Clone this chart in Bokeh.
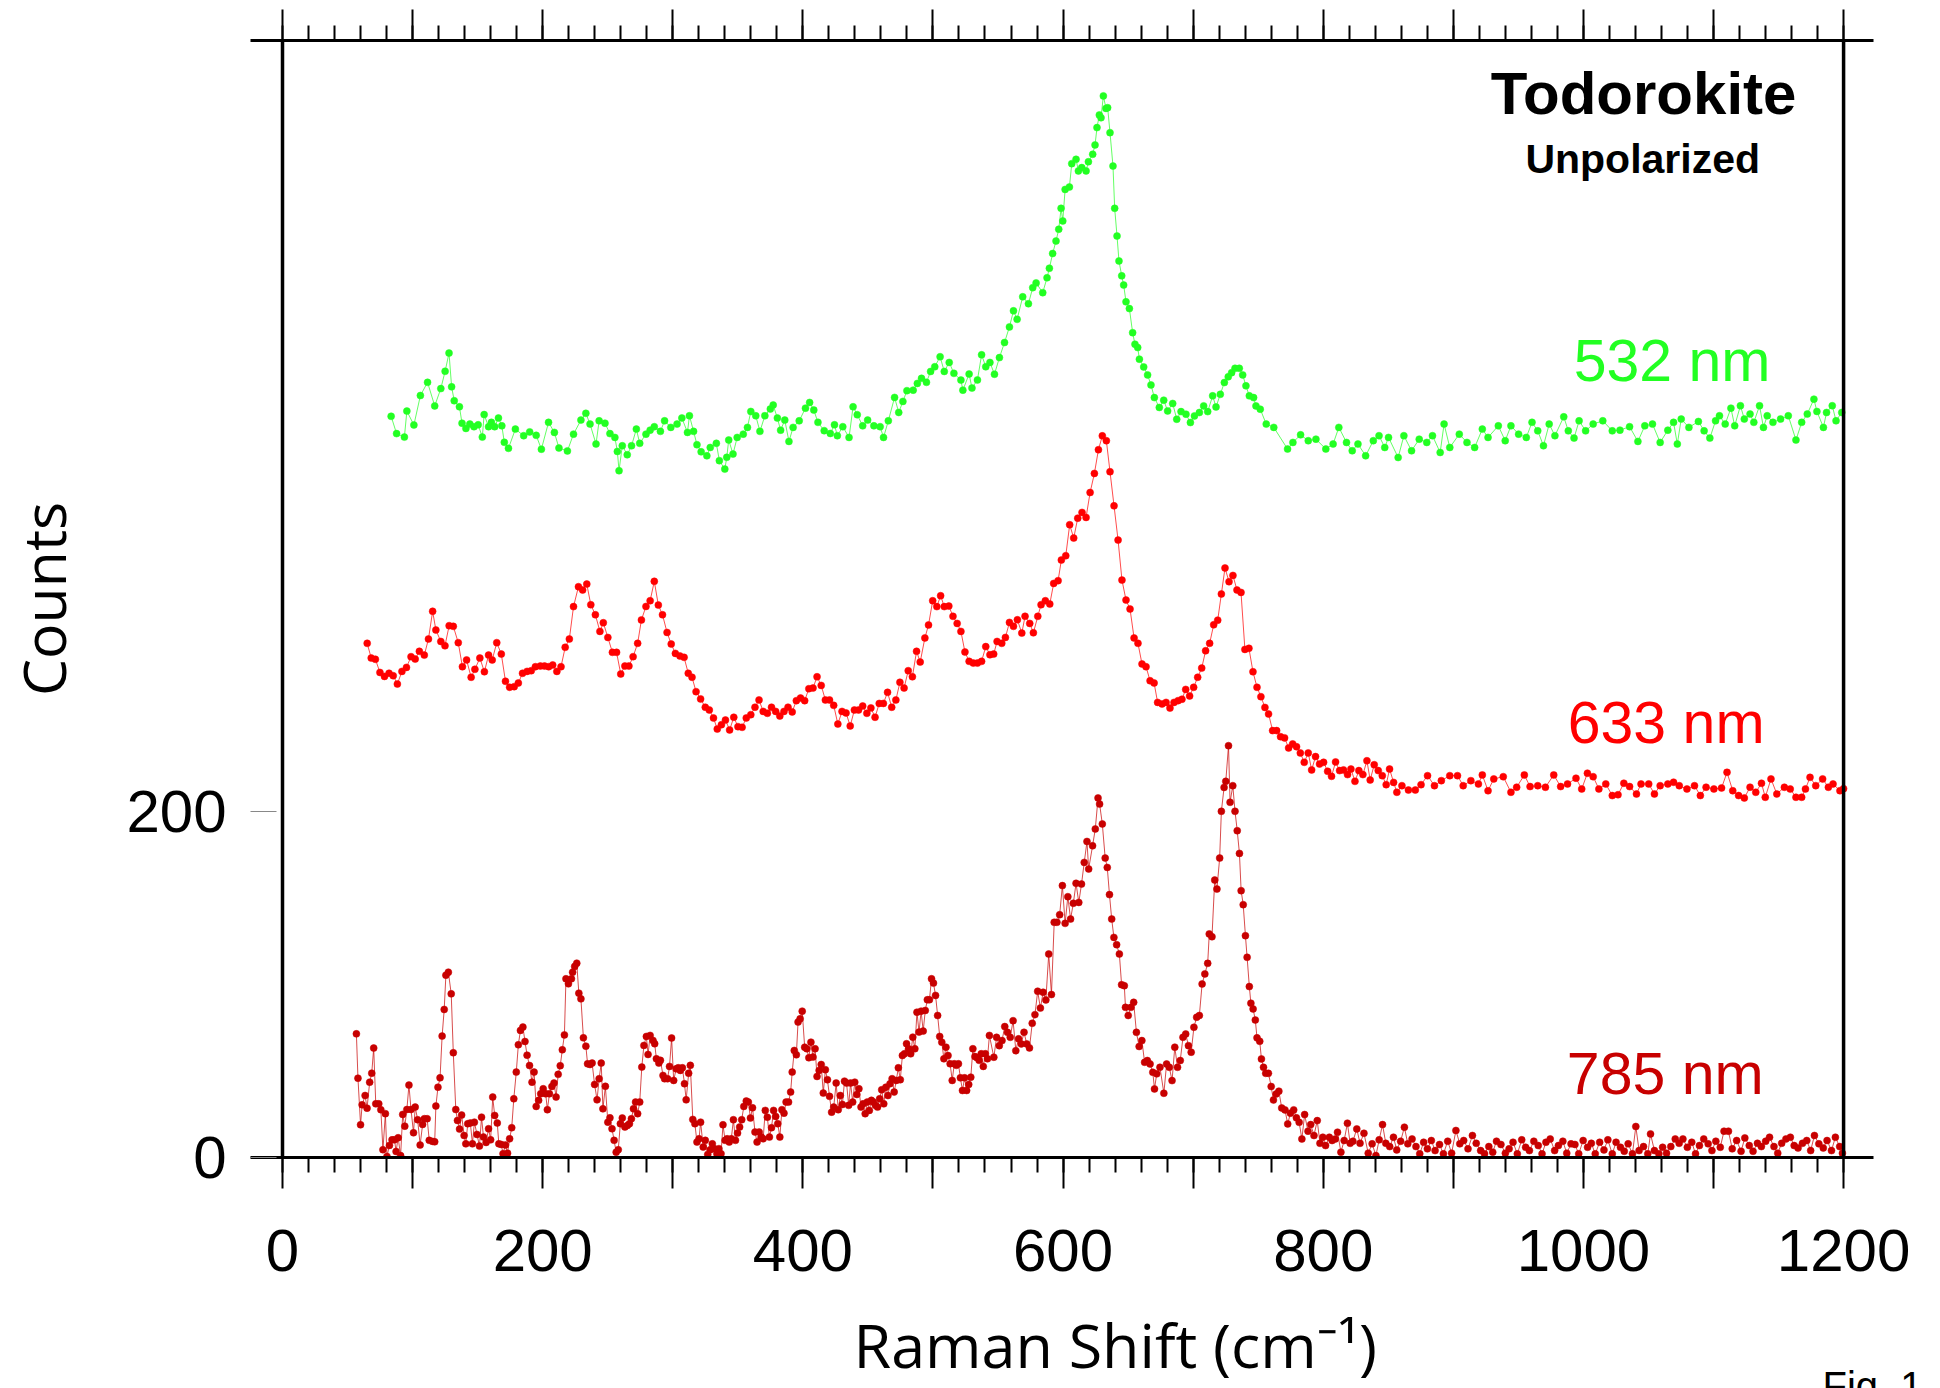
from bokeh.plotting import figure
from bokeh.models import Range1d, FixedTicker, LinearAxis, Span, Label, Title
from bokeh.embed import file_html
from bokeh.resources import INLINE

# ---------------- data ----------------
X_MAJOR_TICKS = [0, 100, 200, 300, 400, 500, 600, 700, 800, 900, 1000, 1100, 1200]
X_MINOR_TICKS = list(range(0, 1201, 20))
X_TICK_LABELS = {100: "", 300: "", 500: "", 700: "", 900: "", 1100: ""}
Y_TICKS = [0, 200]

SERIES_NAMES = ["532 nm", "633 nm", "785 nm"]

# 532 nm (green)
G532_X = [
    83.5, 87.7, 93.7, 95.6, 101.0, 106.0, 111.5, 117.0, 121.7, 125.0,
    128.0, 130.0, 132.0, 136.0, 138.0, 141.0, 144.0, 147.2, 150.4, 153.6,
    155.0, 158.4, 160.6, 163.1, 166.0, 168.6, 170.5, 173.7, 179.0, 185.4,
    190.0, 195.0, 199.0, 204.5, 209.0, 212.5, 219.0, 223.7, 229.4, 233.2,
    236.4, 241.0, 243.4, 247.9, 251.7, 255.5, 257.4, 258.7, 261.2, 265.0,
    268.3, 272.0, 274.6, 279.4, 282.6, 285.8, 290.5, 293.7, 298.5, 303.3,
    307.0, 311.3, 312.8, 316.0, 318.6, 321.8, 326.2, 328.8, 333.5, 335.8,
    340.0, 341.5, 343.0, 346.3, 349.5, 354.2, 357.4, 360.0, 363.8, 367.0,
    370.8, 375.0, 377.2, 380.4, 382.9, 386.1, 389.3, 392.5, 397.2, 402.0,
    405.2, 408.4, 411.6, 416.4, 421.1, 424.3, 426.5, 430.7, 435.5, 438.6,
    441.8, 446.0, 449.8, 454.6, 459.4, 462.0, 465.7, 470.5, 473.7, 476.9,
    480.0, 484.8, 488.0, 491.2, 495.0, 498.2, 501.4, 505.5, 508.7, 512.5,
    516.1, 521.5, 523.0, 527.8, 530.0, 534.2, 537.4, 540.6, 543.8,
    547.3, 551.1, 555.0, 558.8, 561.9, 564.7, 569.0, 573.4, 576.7, 579.3,
    584.4, 587.7, 589.5, 592.0, 594.6, 596.7, 598.5, 599.8, 601.6, 604.9,
    606.7, 610.0, 611.8, 614.4, 617.7, 619.5, 622.8, 624.6, 626.1, 627.9,
    629.2, 631.0, 633.0, 634.3, 636.1, 638.4, 639.7, 641.5, 643.0, 645.1,
    646.6, 648.4, 651.0, 653.5, 655.3, 657.4, 658.7, 662.0, 665.0, 667.6,
    670.2, 674.0, 677.4, 680.4, 684.3, 687.4, 690.7, 694.5, 697.9, 701.0,
    704.8, 708.1, 711.2, 715.0, 717.6, 720.9, 724.0, 727.0, 729.6, 732.2,
    735.5, 738.1, 740.6, 743.2, 746.5, 748.3, 751.6,
    756.2, 762.0, 772.6, 776.7, 782.6, 788.5, 794.4, 802.0, 807.6, 812.0,
    817.9, 822.3, 826.7, 832.6, 838.5, 842.9, 847.3, 850.2, 857.6, 862.0,
    867.9, 873.8, 879.6, 884.0, 889.9, 892.9, 897.3, 904.6, 910.5, 916.4,
    922.3, 926.7, 934.6, 939.9, 944.3, 950.2, 956.1, 960.5, 964.9, 969.3,
    973.7, 978.1, 984.9, 988.4, 992.8, 996.7, 1001.7, 1007.5, 1014.9, 1022.2,
    1028.1, 1035.5, 1041.9, 1047.2, 1053.1, 1059.0, 1064.9, 1069.3, 1072.2, 1075.2,
    1081.1, 1088.4, 1092.8, 1097.2, 1101.6, 1104.6, 1109.0, 1113.4, 1116.3, 1120.7,
    1123.7, 1128.1, 1131.0, 1135.4, 1138.4, 1141.3, 1145.7, 1151.6, 1157.5, 1163.4,
    1167.8, 1172.1, 1177.2, 1179.5, 1184.5, 1186.9, 1191.3, 1194.2, 1198.6,
]
G532_Y = [
    428, 418, 416, 431, 423, 440, 447.6, 434, 444, 454,
    464.5, 445, 437, 433.5, 424, 421, 423.5, 422, 423.1, 416,
    429, 422, 424.5, 422, 427, 422.5, 413, 409.5, 420.6, 416.8,
    419, 417, 409, 424.5, 418.7, 409.7, 408, 417.7, 425.8, 429.7,
    423.5, 412, 425.4, 424, 418, 415.8, 407.7, 396.6, 411, 405.8,
    411, 420.6, 412.4, 417.7, 420, 422, 419.3, 425.4, 421.6, 423.5,
    427, 418.7, 428.3, 419.3, 411.6, 407.5, 405.2, 410, 412.4, 402.4,
    397.5, 404.3, 414.3, 406.2, 415.8, 417.7, 421.6, 430.8, 428.3, 419.3,
    428.3, 432.2, 434.5, 427, 420, 425.8, 413.5, 421.6, 425.4, 432.7,
    436, 431.6, 424.5, 419.7, 418.1, 423.1, 416.8, 422, 415.8, 433.5,
    428.9, 422.5, 425.8, 422.5, 422, 415.8, 425.4, 438.9, 430.2, 436.6,
    442.8, 443.1, 447, 449.9, 447.6, 453.9, 456.6, 462.4, 453.9, 459.1,
    452.8, 448.9, 443.1, 452.4, 444.3, 449, 463.5, 456.6, 459.1,
    452.3, 461.9, 470.6, 479.6, 488.9, 484, 497, 493, 502.3, 505,
    499.4, 508, 513.5, 522, 529.2, 536, 548.1, 540.8, 559, 560.4,
    573.9, 576.4, 569.7, 571.6, 569.7, 575, 579.3, 584.7, 594.7, 602,
    600.4, 613, 605.8, 606.2, 591.8, 572.5, 548.1, 532.1, 517.7, 509.1,
    503.8, 494.1, 490.2, 476.3, 469.6, 467.7, 461, 456.5, 451.9, 446.1,
    438.8, 433.1, 437.3, 431.1, 435.4, 426.3, 430.7, 429.2, 424.4, 428.2,
    430.2, 434, 430.7, 439.8, 433.4, 440.7, 447.5, 450.8, 453.2, 455.7,
    455.7, 451.9, 445.6, 439.8, 438.8, 434, 432.1,
    423.5, 421.6, 409.1, 412.9, 417.3, 413.9, 414.8, 409.1, 412, 421.6,
    412.9, 408.1, 412, 405.2, 413.9, 416.8, 410, 415.8, 404.2, 416.8,
    408.1, 414.8, 412.9, 416.8, 407.1, 423.5, 410, 417.7, 412.9, 410,
    420.6, 415.8, 422.5, 413.9, 422.5, 417.7, 415.8, 424.5, 419.6, 411,
    423.5, 416.8, 427.7, 419.6, 415.4, 425.4, 419.6, 423.5, 425.4, 419.6,
    420, 422, 413.5, 422.5, 423.5, 412.9, 420, 424.5, 412, 426.4,
    421.6, 425, 419.6, 415.4, 425.4, 428.3, 423.5, 432.7, 422.5, 434.1,
    426.4, 429.3, 424.5, 434.1, 421.6, 428.3, 424.5, 426.4, 428.3, 414.3,
    424.5, 429.3, 437.9, 430.8, 421.6, 430.2, 434.1, 425.4, 430.2,
]

# 633 nm (red)
R633_X = [
    65.1, 68.2, 71.4, 74.9, 78.4, 81.9, 85.1, 88.3, 91.8, 95.3,
    98.8, 102.0, 105.2, 109.0, 112.2, 115.4, 117.9, 121.7, 124.9, 128.1,
    131.3, 135.1, 138.3, 141.5, 145.0, 147.9, 151.7, 155.2, 158.4, 161.2,
    164.7, 168.2, 171.4, 174.6, 178.1, 181.3, 184.5, 188.0, 191.2, 194.4,
    198.2, 201.4, 204.6, 207.7, 210.9, 214.1, 217.3, 220.5, 223.7, 227.5,
    230.7, 233.9, 237.0, 240.5, 244.0, 246.6, 250.1, 253.6, 256.8, 260.0,
    263.2, 266.3, 269.5, 273.0, 275.9, 279.4, 282.6, 285.8, 288.9, 292.1,
    295.6, 298.8, 302.0, 305.5, 308.7, 311.9, 314.8, 317.9, 321.4, 325.0,
    328.1, 331.3, 334.2, 337.4, 340.5, 343.7, 346.9, 350.1, 353.3, 356.5,
    360.0, 363.2, 366.3, 369.5, 372.7, 375.9, 379.1, 382.3, 385.5, 388.6,
    391.8, 395.0, 398.2, 401.4, 404.6, 407.8, 410.9, 414.1, 417.3, 420.5,
    423.7, 426.9, 430.1, 433.2, 436.4, 439.6, 442.8, 446.0, 449.2, 452.3,
    455.5, 458.7, 461.9, 465.1, 468.3, 471.5, 474.6, 477.8, 481.0, 484.2,
    487.4, 490.2, 493.8, 496.6, 499.8, 503.0, 505.9, 508.7, 512.2, 515.4,
    518.6, 521.5, 524.6, 527.8, 531.0, 534.2, 537.4, 540.6, 543.8,
    546.7, 549.3, 552.9, 555.7, 558.8, 561.9, 564.9, 568.3, 570.8, 574.4,
    577.2, 580.6, 583.1, 586.4, 589.8, 592.8, 596.2, 598.7, 602.1, 605.1,
    608.2, 611.3, 614.6, 617.7, 620.8, 624.1, 627.2, 630.2, 633.3, 636.1,
    639.2, 642.3, 645.3, 648.4, 651.5, 654.6, 657.6, 660.7, 663.8, 666.9,
    670.0, 672.7, 676.1, 679.2, 682.2, 685.3, 688.4, 691.4, 694.3, 697.3,
    700.4, 703.5, 706.6, 709.6, 712.7, 715.8, 718.9, 721.7, 724.5, 727.6,
    730.6, 733.7, 736.8, 739.8, 742.9, 746.0, 749.1, 752.1, 755.2, 758.0,
    761.1, 764.2, 767.2, 770.3, 773.4, 776.5, 779.5, 782.4, 785.4, 788.5,
    791.1, 794.1, 797.2, 800.3, 803.4, 806.4, 809.5, 812.6, 815.6, 818.7,
    821.3, 824.4, 827.4, 830.5, 833.6, 836.1, 839.2, 842.3, 845.4, 848.4,
    851.0, 854.1, 856.6,
    860.5, 865.5, 870.8, 875.2, 880.2, 885.5, 890.8, 897.3, 903.2, 907.6,
    913.5, 919.3, 922.3, 926.7, 931.1, 938.4, 944.3, 948.7, 954.6, 959.0,
    964.9, 970.8, 977.2, 982.5, 987.8, 994.3, 998.7, 1003.1, 1007.5, 1011.9,
    1017.2, 1022.2, 1026.6, 1031.1, 1035.5, 1040.8, 1044.3, 1050.2, 1054.6, 1059.0,
    1064.9, 1069.3, 1073.7, 1079.6, 1085.4, 1089.9, 1094.3, 1100.3, 1106.2, 1110.4,
    1114.8, 1119.3, 1123.7, 1128.1, 1132.5, 1136.9, 1139.8, 1144.2, 1148.7, 1154.5,
    1159.0, 1163.4, 1167.8, 1170.7, 1174.2, 1178.6, 1183.9, 1188.3, 1191.9, 1197.2,
    1200.0,
]
R633_Y = [
    296.9, 288.4, 287.7, 280.1, 277.8, 279.6, 278.2, 273.4, 280.7, 283,
    289.2, 287.8, 292.3, 290.1, 299.4, 315.4, 304.6, 298, 295.5, 307.1,
    306.7, 297.3, 283.4, 287.3, 277.3, 281.9, 288.4, 280.5, 290.1, 287.3,
    297.3, 290.7, 275, 271.5, 271.9, 274, 279.6, 280.7, 281.1, 283.4,
    283.8, 283.8, 283.4, 284.4, 280.7, 283.4, 294.6, 299.4, 318.1, 329.6,
    327.7, 331.1, 319.2, 313.4, 303.8, 308.8, 300.3, 291.7, 291.7, 279.2,
    283.8, 283.8, 289.2, 296.9, 310.4, 318.2, 321.5, 332.7, 319, 313.4,
    303.2, 296.5, 291.1, 289.6, 288.8, 279.6, 277.3, 269, 264.8, 260,
    258.4, 253.8, 247.4, 249.9, 252.6, 246.9, 254.2, 248.8, 248.4, 253.8,
    255.7, 260, 264.2, 257.6, 256.5, 260, 257.6, 254.9, 257.6, 260,
    257.3, 263.8, 265.3, 263.8, 270.7, 271.1, 277.6, 272.6, 264.2, 264.2,
    261.1, 250.3, 257.6, 256.7, 249.2, 258.4, 258.4, 260.7, 256.5, 259.6,
    254.2, 262.2, 262.2, 268.6, 260, 264.2, 274.4, 271.1, 281.1, 277.6,
    292.3, 286.1, 300, 307.5, 321.5, 318.1, 324.4, 318.1, 318.4, 312.5,
    308.4, 303.8, 291.9, 286.5, 285.5, 285.5, 286.5, 295, 290.3,
    290.7, 298, 296.9, 300.3, 309, 306.7, 310.5, 302.8, 312.5, 308.4,
    303, 312.5, 319.2, 321.5, 319.6, 331.5, 333.1, 345, 347.5, 365.4,
    357.7, 369.2, 372.5, 369.6, 384, 395, 408.7, 416.7, 413.9, 396,
    376.3, 356.5, 333.4, 321.9, 316.7, 300, 296.9, 285, 283.4, 275.3,
    274, 262.8, 261.9, 262.8, 259.5, 262.8, 263.8, 264.6, 270.3, 266.5,
    271.5, 277.3, 282.6, 292.6, 296.9, 307.6, 310.3, 325.4, 340.4, 332.5,
    336.1, 327.7, 326.3, 293.4, 294, 280.5, 271.5, 266.1, 259.9, 256.1,
    246.5, 246.5, 243, 242.3, 236.5, 238.8, 237.2, 233.6, 228.2, 233.6,
    223.8, 231.5, 227.2, 228.2, 223, 220.1, 228.4, 223.4, 223.8, 221.1,
    224.3, 217.2, 223.4, 221.1, 229.1, 218, 226.8, 223.4, 220.5, 215.3,
    224.3, 216.6, 210.9,
    214.7, 212.2, 212.2, 215.3, 220.5, 214.7, 217.6, 220.5, 220.5, 214.7,
    217.6, 215.7, 220.9, 211.8, 218.6, 219.9, 210.9, 213.8, 220.9, 214.2,
    214.7, 213.8, 220.9, 214.2, 215.7, 219, 212.8, 221.9, 219.9, 212.8,
    215.7, 209, 209.5, 216.1, 214.2, 209.9, 215.7, 215.7, 209.9, 214.7,
    215.7, 216.7, 214.7, 212.8, 214.7, 209, 213.8, 212.8, 213.4, 222.4,
    211.8, 209, 207.6, 213.8, 210.9, 216.1, 208, 218.6, 209.9, 213.8,
    212.8, 208, 208, 212.8, 219.5, 214.7, 218.6, 213.8, 215.7, 211.8,
    213,
]

# 785 nm (dark red)
D785_X = [
    56.8, 58.0, 60.0, 61.2, 63.5, 65.0, 67.0, 68.6, 70.1, 71.7,
    74.0, 75.6, 77.2, 79.1, 80.3, 82.2, 84.2, 86.1, 87.3, 88.9,
    90.8, 92.4, 94.0, 95.6, 97.2, 98.8, 100.7, 102.0, 103.9, 105.8,
    107.7, 109.0, 111.2, 112.8, 115.4, 117.0, 117.9, 119.5, 121.1, 122.7,
    124.3, 125.6, 127.5, 129.7, 131.3, 133.2, 134.5, 136.1, 137.7, 139.6,
    140.9, 142.4, 144.4, 146.0, 147.5, 149.5, 151.4, 153.0, 154.5, 156.5,
    158.4, 160.0, 161.6, 163.1, 165.1, 166.3, 168.2, 169.5, 171.4, 173.0,
    174.6, 176.2, 177.8, 179.7, 181.3, 182.9, 184.8, 186.4, 188.0, 189.9,
    191.8, 193.4, 195.0, 196.9, 198.5, 200.4, 202.3, 203.6, 205.2, 207.1,
    208.7, 210.3, 211.9, 213.5, 215.1, 216.7, 217.9, 219.8, 222.1, 223.0,
    224.6, 226.2, 227.8, 229.4, 231.3, 233.2, 234.5, 236.4, 238.0, 239.9,
    241.8, 243.4, 245.0, 246.3, 248.2, 250.1, 251.7, 253.3, 254.9, 256.5,
    258.1, 259.7, 261.2, 263.2, 265.1, 266.7, 268.2, 269.8, 271.4, 273.0,
    274.6, 276.2, 277.8, 279.7, 281.0, 282.6, 284.8, 286.1, 287.4, 289.3,
    290.5, 292.5, 293.7, 296.0, 297.5, 299.1, 300.7, 302.6, 304.2, 305.8,
    307.4, 309.0, 310.3, 312.2, 313.5, 315.4, 317.0, 318.6, 320.2, 321.4,
    323.4, 325.0, 326.9, 328.8, 330.4, 332.0, 333.9, 335.5, 337.1, 338.6,
    340.2, 341.8, 343.4, 345.0, 346.6, 348.2, 349.8, 351.4, 353.0, 354.6,
    356.5, 358.1, 359.7, 361.3, 363.2, 364.8, 366.4, 368.0, 369.5, 371.1,
    372.7, 374.3, 375.9, 377.5, 379.1, 380.7, 382.3, 383.9, 385.5, 387.1,
    389.0, 390.6, 391.8, 393.4, 395.0, 396.3, 397.9, 399.5, 401.4, 403.0,
    404.6, 406.2, 407.8, 409.4, 410.9, 412.5, 414.1, 415.7, 417.3, 418.9,
    420.5, 422.1, 423.7, 425.6, 427.2, 428.8, 430.4, 432.0, 433.6, 435.2,
    436.7, 438.3, 439.9, 441.5, 443.1, 444.7, 446.3, 447.9, 449.5, 451.1,
    452.7, 454.2, 455.8, 457.4, 459.0, 460.6, 462.2, 463.8, 465.4, 467.0,
    468.6, 470.2, 471.8, 473.4, 474.9, 476.5, 478.1, 479.7, 481.3, 482.9,
    484.5, 486.1, 487.7, 489.3, 490.9, 492.5, 494.1, 495.7, 497.3, 498.9,
    500.4, 502.0, 503.6, 505.2, 506.8, 508.4, 510.0, 511.6, 513.2, 514.8,
    516.4, 518.0, 519.6, 521.1, 522.7, 524.3, 525.9, 527.5, 529.1, 530.7,
    532.3, 533.9, 535.5, 537.1, 538.7, 540.3, 541.9, 543.4,
    546.8, 548.9, 551.0, 553.1, 555.2, 557.3, 559.4, 561.6, 563.7, 565.8,
    567.9, 570.0, 572.1, 574.2, 576.3, 578.4, 580.5, 582.6, 584.7, 586.8,
    589.0, 591.1, 593.2, 595.3, 597.4, 599.5, 601.6, 603.7, 605.8, 607.9,
    610.0, 612.1, 614.2, 616.3, 618.4, 619.7, 622.7, 624.8, 626.9, 628.1,
    630.2, 632.4, 634.0, 635.7, 637.4, 639.1, 641.2, 643.3, 645.0, 647.1,
    648.0, 650.1, 652.2, 654.3, 656.4, 658.5, 660.6, 662.7, 664.8, 666.9,
    669.0, 670.3, 672.0, 674.5, 677.5, 679.6, 681.7, 683.8, 685.9, 688.0,
    690.1, 692.2, 694.3, 696.4, 698.5, 700.6, 702.7, 704.8, 706.9, 709.0,
    711.2, 712.4, 714.5, 716.6, 718.3, 720.4, 721.7, 723.8, 725.1, 727.2,
    728.4, 730.5, 732.2, 733.9, 735.6, 736.9, 738.5, 740.2, 741.5, 743.2,
    744.4, 746.1, 747.8, 749.1, 751.2, 752.5, 754.1, 755.8, 757.9, 760.0,
    761.7, 763.8, 765.9, 768.1, 770.6, 772.7, 774.8, 777.3, 779.4, 781.5,
    783.6, 785.7, 788.3, 790.4, 792.9, 795.4, 797.5, 799.7, 801.8, 804.7,
    806.8, 809.3, 811.0, 813.6, 816.1, 818.6, 820.7, 822.8, 825.8, 828.3,
    831.3, 834.6, 837.6, 840.5, 843.0, 845.6, 848.1, 851.1, 854.0, 856.5,
    859.5, 862.4, 865.0, 868.3, 871.3, 874.2, 877.2, 880.1, 883.1, 886.0,
    889.4, 892.4, 895.7, 898.7, 902.0, 905.0, 908.0, 911.3, 914.7, 917.6,
    921.0, 924.0, 927.3, 930.3, 933.2, 936.6, 940.0, 942.9, 945.9, 949.2,
    952.6, 955.6, 958.5, 961.9, 965.3, 968.2, 971.2, 974.5, 977.9, 980.8,
    984.2, 987.2, 990.5, 993.5, 996.4, 999.8, 1003.2, 1006.1, 1009.1, 1012.5,
    1015.8, 1018.8, 1022.2, 1025.1, 1028.5, 1031.4, 1034.4, 1037.7, 1040.3, 1042.8,
    1046.2, 1049.5, 1051.6, 1054.6, 1058.0, 1060.9, 1063.9, 1067.2, 1070.6, 1073.6,
    1076.5, 1079.9, 1083.3, 1086.2, 1089.2, 1092.5, 1095.9, 1098.8, 1101.8, 1105.2,
    1108.1, 1111.5, 1114.4, 1117.8, 1121.2, 1124.1, 1127.5, 1130.4, 1133.8, 1136.8,
    1140.1, 1143.1, 1146.5, 1149.4, 1152.4, 1155.7, 1159.1, 1162.0, 1165.0, 1168.4,
    1171.7, 1174.7, 1177.6, 1181.0, 1184.4, 1187.3, 1190.7, 1193.7, 1197.0, 1199.1,
]
D785_Y = [
    71.4, 45.8, 18.9, 30.4, 35.8, 28.5, 43.5, 48.7, 63.2, 31,
    31, 27.6, 4.5, 25.3, 0.6, 7, 10.2, 10.2, 3.5, 11.4,
    1.1, 24.9, 18.1, 27.7, 41.8, 27.7, 14.3, 29.1, 21.8, 7.2,
    19.1, 22.4, 22.4, 9.9, 9.3, 9.1, 29.7, 40.6, 46, 70.1,
    85.5, 105.3, 107, 94.5, 60.5, 27.7, 21.4, 16.4, 24.5, 12.7,
    7.9, 19.5, 19.9, 7.9, 20.4, 13.3, 6.6, 23.3, 11.8, 8.7,
    16.6, 10.2, 34.9, 24.3, 19.9, 7.9, 7.5, 2.2, 7.2, 2.5,
    10.8, 17.2, 33.9, 49.3, 65.1, 73.4, 75.3, 67, 59.1, 53.1,
    43.5, 49.3, 29.5, 33, 36.8, 39.7, 36.8, 27.6, 36.8, 41,
    43, 34.9, 48, 53, 62.2, 70.8, 103.2, 100.3, 103.2, 107,
    110.3, 112.2, 94.9, 91.6, 69.1, 64.3, 54.1, 53.7, 54.5, 42.2,
    33.3, 45.5, 54.5, 28.1, 41.1, 20.4, 22.9, 16.6, 9.9, 3.1,
    4.5, 19.5, 22.8, 17.6, 18.5, 19.5, 22.4, 28.1, 32, 25.3,
    32, 52.2, 64.7, 69.9, 59.5, 70.5, 67.6, 65.7, 57, 54.5,
    56.1, 47.4, 45.5, 45.5, 52.6, 69, 44.5, 51.2, 51.8, 50.3,
    51.8, 42.6, 33.3, 48.7, 53.2, 22, 19.5, 8.9, 10.8, 20.4,
    6, 9.9, 1.8, 4.5, 7.9, 5.1, 2.2, 5.1, 2.2, 18.9,
    9.9, 10.8, 8.9, 10.8, 21.8, 9.9, 14.1, 17.6, 21.8, 29.5,
    32.6, 32, 22.8, 28.7, 14.7, 8.9, 14.7, 11.8, 10.8, 27.2,
    23.3, 11.8, 17.2, 27.2, 23.7, 19.5, 11.8, 27.6, 25.6, 32,
    32, 37.8, 49.3, 61.8, 59.3, 78.2, 80.1, 84.5, 63.7, 62.8,
    57.6, 66.6, 58, 62.8, 46.8, 50.3, 53.7, 37.2, 50.7, 44.9,
    35.3, 26.2, 29.1, 43, 27.6, 35.8, 30.6, 44.1, 43, 30.1,
    43, 32, 43.5, 36.4, 39.7, 29.1, 31, 25.3, 32, 27.2,
    33, 32, 30.1, 29.1, 33.9, 39.1, 31, 40.6, 35.8, 42.6,
    45.5, 37.8, 44.5, 51.8, 44.9, 58.9, 59.9, 65.7, 62.8, 59.9,
    69.5, 62.8, 83.9, 72.4, 84.5, 73, 84.9, 91.1, 91.1, 103.2,
    100.7, 93.6, 82, 69.9, 66.6, 57, 63.7, 58.9, 54.1, 44.5,
    54.1, 53.2, 54.1, 46, 38.7, 46, 38.7, 42.2, 46.4, 62.8,
    58.3, 57.6, 56.1, 59.9, 52.6, 59.9, 57, 70.5,
    57.9, 69.4, 64.6, 67.5, 75.6, 72.3, 69.4, 79, 61.7, 68.5,
    65.6, 72.3, 65.6, 63.3, 77.5, 82.5, 96, 86.3, 95.4, 91,
    117.5, 94.1, 135.8, 135.8, 140.2, 157, 135.2, 150.6, 137.7, 146.8,
    158.3, 147.3, 157.9, 170.4, 182.5, 166.6, 180, 189.7, 207.6, 204.1,
    192.6, 172.9, 167.5, 151.8, 137.7, 127.1, 122.9, 117.5, 99.8, 99.2,
    86.7, 82, 86.7, 89.6, 72.3, 64.1, 67.5, 55, 56, 54,
    49.2, 39.6, 48.3, 52.1, 37.1, 54, 52.1, 44.4, 63.7, 52.1,
    56, 69.4, 71.3, 64.6, 60.8, 75.2, 81, 82, 100.2, 106,
    112.1, 129.1, 127.5, 160.2, 155, 172.9, 199.9, 213.7, 217.2, 237.8,
    205.1, 214.7, 199.9, 188.7, 175.6, 154.1, 146, 128.1, 115.6, 98.7,
    89.1, 85.8, 79.4, 69.1, 67.1, 56.9, 52.1, 48.6, 48.6, 41,
    33.2, 36.7, 38.3, 28.6, 27.5, 19.4, 25.6, 27.5, 22.9, 20.3,
    10.7, 24.8, 15.2, 19, 12.7, 21.3, 8.2, 11.7, 6.9, 11.7,
    9.8, 10.7, 14.6, 3.1, 9.8, 19.8, 8.2, 9.4, 16.5, 8.2,
    14, 2.5, 7.9, 1.1, 10.2, 19, 8.2, 6.3, 11.7, 4.4,
    9.4, 17.5, 7.9, 10.7, 6.3, 2.1, 8.8, 5, 9.8, 4,
    7.5, 2.1, 9.4, 2.5, 15.6, 7.9, 9.8, 5, 12.7, 8.2,
    4, 2.1, 6.3, 3.1, 9.4, 7.5, 2.5, 5, 8.8, 2.1,
    10.2, 5.9, 4, 9.4, 6.9, 2.1, 8.8, 10.7, 4, 6.9,
    9.4, 2.5, 7.9, 7.5, 2.1, 9.8, 5.9, 8.2, 2.1, 8.8,
    4.4, 10.2, 2.1, 8.8, 5.9, 3.6, 7.9, 2.1, 17.9, 4,
    6.3, 2.1, 13.6, 4, 2.1, 5.9, 2.5, 6.3, 10.7, 8.2,
    10.7, 5.9, 8.8, 2.1, 6.9, 10.7, 7.9, 4, 9.4, 5.9,
    15.2, 15.2, 5, 9.8, 3.6, 11.3, 6.9, 3.6, 8.2, 6.3,
    9.4, 11.7, 6.3, 2.5, 8.2, 10.7, 11.7, 6.9, 5.5, 8.2,
    9.8, 4, 12.7, 7.9, 5.5, 9.8, 4, 11.7, 6.3, 2.5,
]

GREEN = "#22ff22"
RED = "#ff0000"
DARK_RED = "#c80000"

# ---------------- figure ----------------
p = figure(
    width=1940, height=1388,
    output_backend="svg", toolbar_location=None,
    x_range=Range1d(-24.6, 1223), y_range=Range1d(0, 645),
    x_axis_location=None, y_axis_location=None,
    min_border_left=249, min_border_right=67,
    min_border_top=40, min_border_bottom=231,
    background_fill_color="white", border_fill_color="white",
)
p.outline_line_color = None
p.grid.visible = False

tick_font = "Liberation Sans"

xb = LinearAxis(ticker=FixedTicker(ticks=X_MAJOR_TICKS, minor_ticks=X_MINOR_TICKS))
xb.major_label_overrides = X_TICK_LABELS
xb.axis_line_width = 3
xb.axis_line_color = "black"
xb.major_tick_line_width = 2
xb.minor_tick_line_width = 2
xb.major_tick_out = 31
xb.major_tick_in = 0
xb.minor_tick_out = 15
xb.minor_tick_in = 0
xb.major_label_standoff = 41
xb.major_label_text_font = tick_font
xb.major_label_text_font_size = "60px"
xb.major_label_text_color = "black"
# invisible spacer label: keeps the axis title at the reference's height
xb.axis_label = "\u00a0"
xb.axis_label_text_font_size = "1px"
xb.axis_label_standoff = 25
p.add_layout(xb, "below")

xt = LinearAxis(ticker=FixedTicker(ticks=X_MAJOR_TICKS, minor_ticks=X_MINOR_TICKS))
xt.major_label_overrides = {t: "" for t in X_MAJOR_TICKS}
xt.major_label_text_font_size = "1px"
xt.major_label_standoff = 0
xt.axis_line_width = 3
xt.axis_line_color = "black"
xt.major_tick_line_width = 2
xt.minor_tick_line_width = 2
xt.major_tick_out = 31
xt.major_tick_in = 0
xt.minor_tick_out = 15
xt.minor_tick_in = 0
p.add_layout(xt, "above")

yl = LinearAxis(ticker=FixedTicker(ticks=Y_TICKS, minor_ticks=[]))
yl.axis_line_color = None
yl.major_tick_in = 26
yl.major_tick_out = 0
yl.major_tick_line_color = "#888888"
yl.major_tick_line_width = 1
yl.major_label_standoff = 24
yl.major_label_text_font = tick_font
yl.major_label_text_font_size = "60px"
yl.major_label_text_color = "black"
yl.axis_label = "Counts"
yl.axis_label_text_font = "Open Sans"
yl.axis_label_text_font_size = "59px"
yl.axis_label_text_font_style = "normal"
yl.axis_label_text_color = "black"
yl.axis_label_standoff = 40
p.add_layout(yl, "left")

x_title = Title(text="Raman Shift (cm\u207b\u00b9)", align="left", offset=603,
                vertical_align="top", standoff=0,
                text_font="Open Sans", text_font_size="61px",
                text_font_style="normal", text_color="black")
p.add_layout(x_title, "below")

fig_title = Title(text="Fig. 1", align="left", offset=1572,
                  vertical_align="top", standoff=-48,
                  text_font="Liberation Sans", text_font_size="40px",
                  text_font_style="normal", text_color="black")
p.add_layout(fig_title, "below")

# frame spines
p.add_layout(Span(location=0, dimension="height", line_color="black", line_width=3.5))
p.add_layout(Span(location=1200, dimension="height", line_color="black", line_width=3.5))

# spectra
for xs, ys, col in [(G532_X, G532_Y, GREEN), (R633_X, R633_Y, RED), (D785_X, D785_Y, DARK_RED)]:
    p.line(xs, ys, line_color=col, line_width=1, line_alpha=0.7)
    p.scatter(xs, ys, size=7, fill_color=col, line_color=col, line_width=0.5)

# ---------------- texts inside the frame ----------------
def lab(x, y, text, size, color="black", font="Liberation Sans", style="normal"):
    p.add_layout(Label(x=x, y=y, x_units="data", y_units="data", text=text,
                       text_font=font, text_font_size=size, text_color=color,
                       text_align="center", text_baseline="alphabetic",
                       text_font_style=style))

lab(1046.3, 614.3, "Todorokite", "60px", style="bold")
lab(1045.6, 576.3, "Unpolarized", "41px", style="bold")
lab(1068.2, 460.2, SERIES_NAMES[0], "59px", color=GREEN)
lab(1063.6, 251.1, SERIES_NAMES[1], "59px", color=RED)
lab(1062.9, 48.5, SERIES_NAMES[2], "59px", color=DARK_RED)

open("out.html", "w").write(file_html(p, INLINE))
